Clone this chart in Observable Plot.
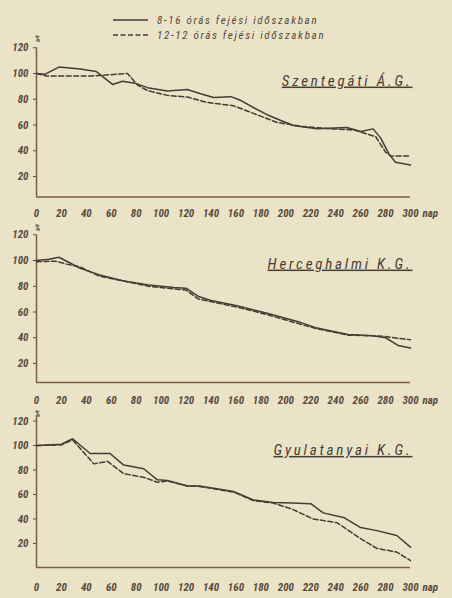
<!DOCTYPE html>
<html><head><meta charset="utf-8">
<script src="https://cdn.jsdelivr.net/npm/d3@7"></script>
<script src="https://cdn.jsdelivr.net/npm/@observablehq/plot@0.6"></script>
<style>
body{margin:0;background:#ebe3c8;}
#wrap{position:relative;width:452px;height:598px;overflow:hidden;background:#ebe3c8;font-family:"Roboto Condensed","DejaVu Sans",sans-serif;font-style:italic;color:#54473b;}
.legend{position:absolute;left:113px;height:12px;font-size:11px;letter-spacing:1.7px;display:flex;align-items:center;white-space:nowrap;font-style:italic;}
.legend svg{margin-right:9px;}
.panel{position:absolute;left:0;}
.panel text{font-style:italic;}
</style></head>
<body><div id="wrap"></div>
<script>
// ---- data (day, % values) ----
const legendLabels = ["8-16 órás fejési időszakban", "12-12 órás fejési időszakban"];
const panelTitles = ["Szentegáti Á.G.", "Herceghalmi K.G.", "Gyulatanyai K.G."];
const xTicks = [0,20,40,60,80,100,120,140,160,180,200,220,240,260,280,300];
const yTicks = [20,40,60,80,100,120];
const xUnit = "nap";
const yUnit = "%";

// Szentegáti Á.G.
const szSolidDays = [0, 7, 18, 35, 48, 61, 69, 79, 89, 105, 121, 131, 142, 156, 164, 174, 185, 196, 206, 225, 249, 260, 270, 276, 283, 288, 300];
const szSolidVals = [100, 99.5, 105, 103.5, 101.5, 91.5, 94, 92.5, 89, 86.4, 87.6, 84.5, 81.4, 82, 79, 73.6, 68, 63.5, 59.6, 57, 58, 55, 57, 50, 37, 31, 29];
const szDashDays  = [0, 8, 43, 73, 81, 89, 105, 121, 137, 158, 174, 193, 212, 236, 249, 255, 265, 272, 280, 284, 300];
const szDashVals  = [100, 98, 98, 100, 91, 86.8, 83, 81.7, 77.5, 75, 69, 62, 59, 57, 56.5, 56, 53, 51, 39, 36, 36];

// Herceghalmi K.G.
const hhSolidDays = [0, 10, 18, 25, 35, 50, 70, 90, 110, 120, 130, 140, 160, 185, 210, 225, 250, 270, 280, 290, 300];
const hhSolidVals = [100, 101, 102.5, 99, 94, 89, 84, 81, 79, 78.5, 72, 69, 65, 59, 52.5, 47.5, 42.5, 41.5, 40, 34, 32];
const hhDashDays  = [0, 15, 25, 35, 50, 70, 90, 110, 120, 130, 145, 160, 185, 210, 225, 250, 270, 280, 290, 300];
const hhDashVals  = [99, 99.5, 97, 95, 88, 84, 80, 78, 77, 70, 67, 64, 58, 51, 47, 42, 41.5, 41, 39.5, 38.5];

// Gyulatanyai K.G.
const gySolidDays = [0, 20, 29, 43, 59, 70, 86, 97, 105, 121, 131, 158, 174, 190, 205, 220, 230, 247, 260, 273, 289, 300];
const gySolidVals = [100, 101, 105.5, 93.5, 93.5, 84, 81, 72, 71.5, 67, 67, 62.5, 55.5, 53.5, 53, 52.5, 45, 41, 33, 30.5, 26.5, 17];
const gyDashDays  = [0, 20, 29, 46, 57, 70, 86, 97, 105, 121, 131, 158, 174, 190, 204, 222, 241, 260, 273, 289, 300];
const gyDashVals  = [100, 100.5, 104.5, 85, 87, 77, 74, 70, 71, 67, 66.5, 62, 55, 53, 48.5, 40, 37, 24, 16, 13, 6];

// ---- build ----
const zip = (d, v) => d.map((x, i) => ({d: x, v: v[i]}));
const wrap = document.getElementById("wrap");
const LINE = "#463c34", AXIS = "#7d5a4c", TXT = "#5a4b3e";
const FONT = '"Roboto Condensed","DejaVu Sans",sans-serif';

// legend
legendLabels.forEach((lab, i) => {
  const row = document.createElement("div");
  row.className = "legend";
  row.style.top = (14 + i * 15) + "px";
  const s = d3.create("svg").attr("width", 35).attr("height", 6);
  s.append("line").attr("x1", 0).attr("x2", 35).attr("y1", 3).attr("y2", 3)
    .attr("stroke", LINE).attr("stroke-width", 1.4)
    .attr("stroke-dasharray", i ? "5,2.5" : null);
  row.appendChild(s.node());
  const t = document.createElement("span");
  t.textContent = lab;
  row.appendChild(t);
  wrap.appendChild(row);
});

function panel(cfg) {
  const {sTop, H, p100, k, pBot, vTop, title, solid, dashed, pad, titleDy, pctDy, napDy} = cfg;
  const vBot = 100 - (pBot - p100) / k;
  const frameTop = p100 - (vTop - 100) * k;
  const marginTop = frameTop - sTop;
  const marginBottom = sTop + H - pBot;
  const svg = Plot.plot({
    width: 452, height: H,
    marginLeft: 36, marginRight: 42, marginTop, marginBottom,
    style: {background: "transparent", fontFamily: FONT, fontStyle: "italic", fontWeight: "bold", fontSize: "11px", color: TXT, overflow: "visible"},
    x: {domain: [0, 300], ticks: xTicks, tickSize: 0, tickPadding: pad, label: null, tickFormat: d => String(d)},
    y: {domain: [vBot, vTop], ticks: yTicks, tickSize: 3, tickPadding: 5, label: null, tickFormat: d => String(d)},
    marks: [
      Plot.ruleX([0], {stroke: AXIS, strokeWidth: 1.5}),
      Plot.ruleY([vBot], {stroke: AXIS, strokeWidth: 1.5}),
      Plot.line(solid, {x: "d", y: "v", stroke: LINE, strokeWidth: 1.5, curve: "linear"}),
      Plot.line(dashed, {x: "d", y: "v", stroke: LINE, strokeWidth: 1.5, strokeDasharray: "5,2.5"}),
      Plot.text([title], {frameAnchor: "top-right", dx: 2, dy: titleDy, lineAnchor: "middle", textAnchor: "end", fontSize: 15, fontWeight: "normal", fill: "#4a3e33"}),
      Plot.text([yUnit], {frameAnchor: "top-left", dx: 1, dy: pctDy, lineAnchor: "middle", textAnchor: "middle", fontSize: 9, fill: TXT}),
      Plot.text([xUnit], {frameAnchor: "bottom-right", dx: 12, dy: napDy, lineAnchor: "middle", textAnchor: "start", fontSize: 11, fill: TXT})
    ]
  });
  d3.select(svg).selectAll("text").filter(function() { return this.textContent === title; })
    .style("text-decoration", "underline").style("letter-spacing", "2.8px");
  svg.classList.add("panel");
  svg.style.top = sTop + "px";
  svg.style.position = "absolute";
  wrap.appendChild(svg);
}

panel({sTop: 30, H: 195, p100: 73, k: 1.2875, pBot: 196.6, vTop: 120, title: panelTitles[0],
  solid: zip(szSolidDays, szSolidVals), dashed: zip(szDashDays, szDashVals), pad: 12, titleDy: 33, pctDy: -9, napDy: 16.5});
panel({sTop: 220, H: 190, p100: 260, k: 1.2875, pBot: 382, vTop: 120, title: panelTitles[1],
  solid: zip(hhSolidDays, hhSolidVals), dashed: zip(hhDashDays, hhDashVals), pad: 14, titleDy: 29, pctDy: -7, napDy: 18});
panel({sTop: 410, H: 188, p100: 445, k: 1.225, pBot: 567, vTop: 124, title: panelTitles[2],
  solid: zip(gySolidDays, gySolidVals), dashed: zip(gyDashDays, gyDashVals), pad: 16, titleDy: 34, pctDy: -1.5, napDy: 20});
</script></body></html>
